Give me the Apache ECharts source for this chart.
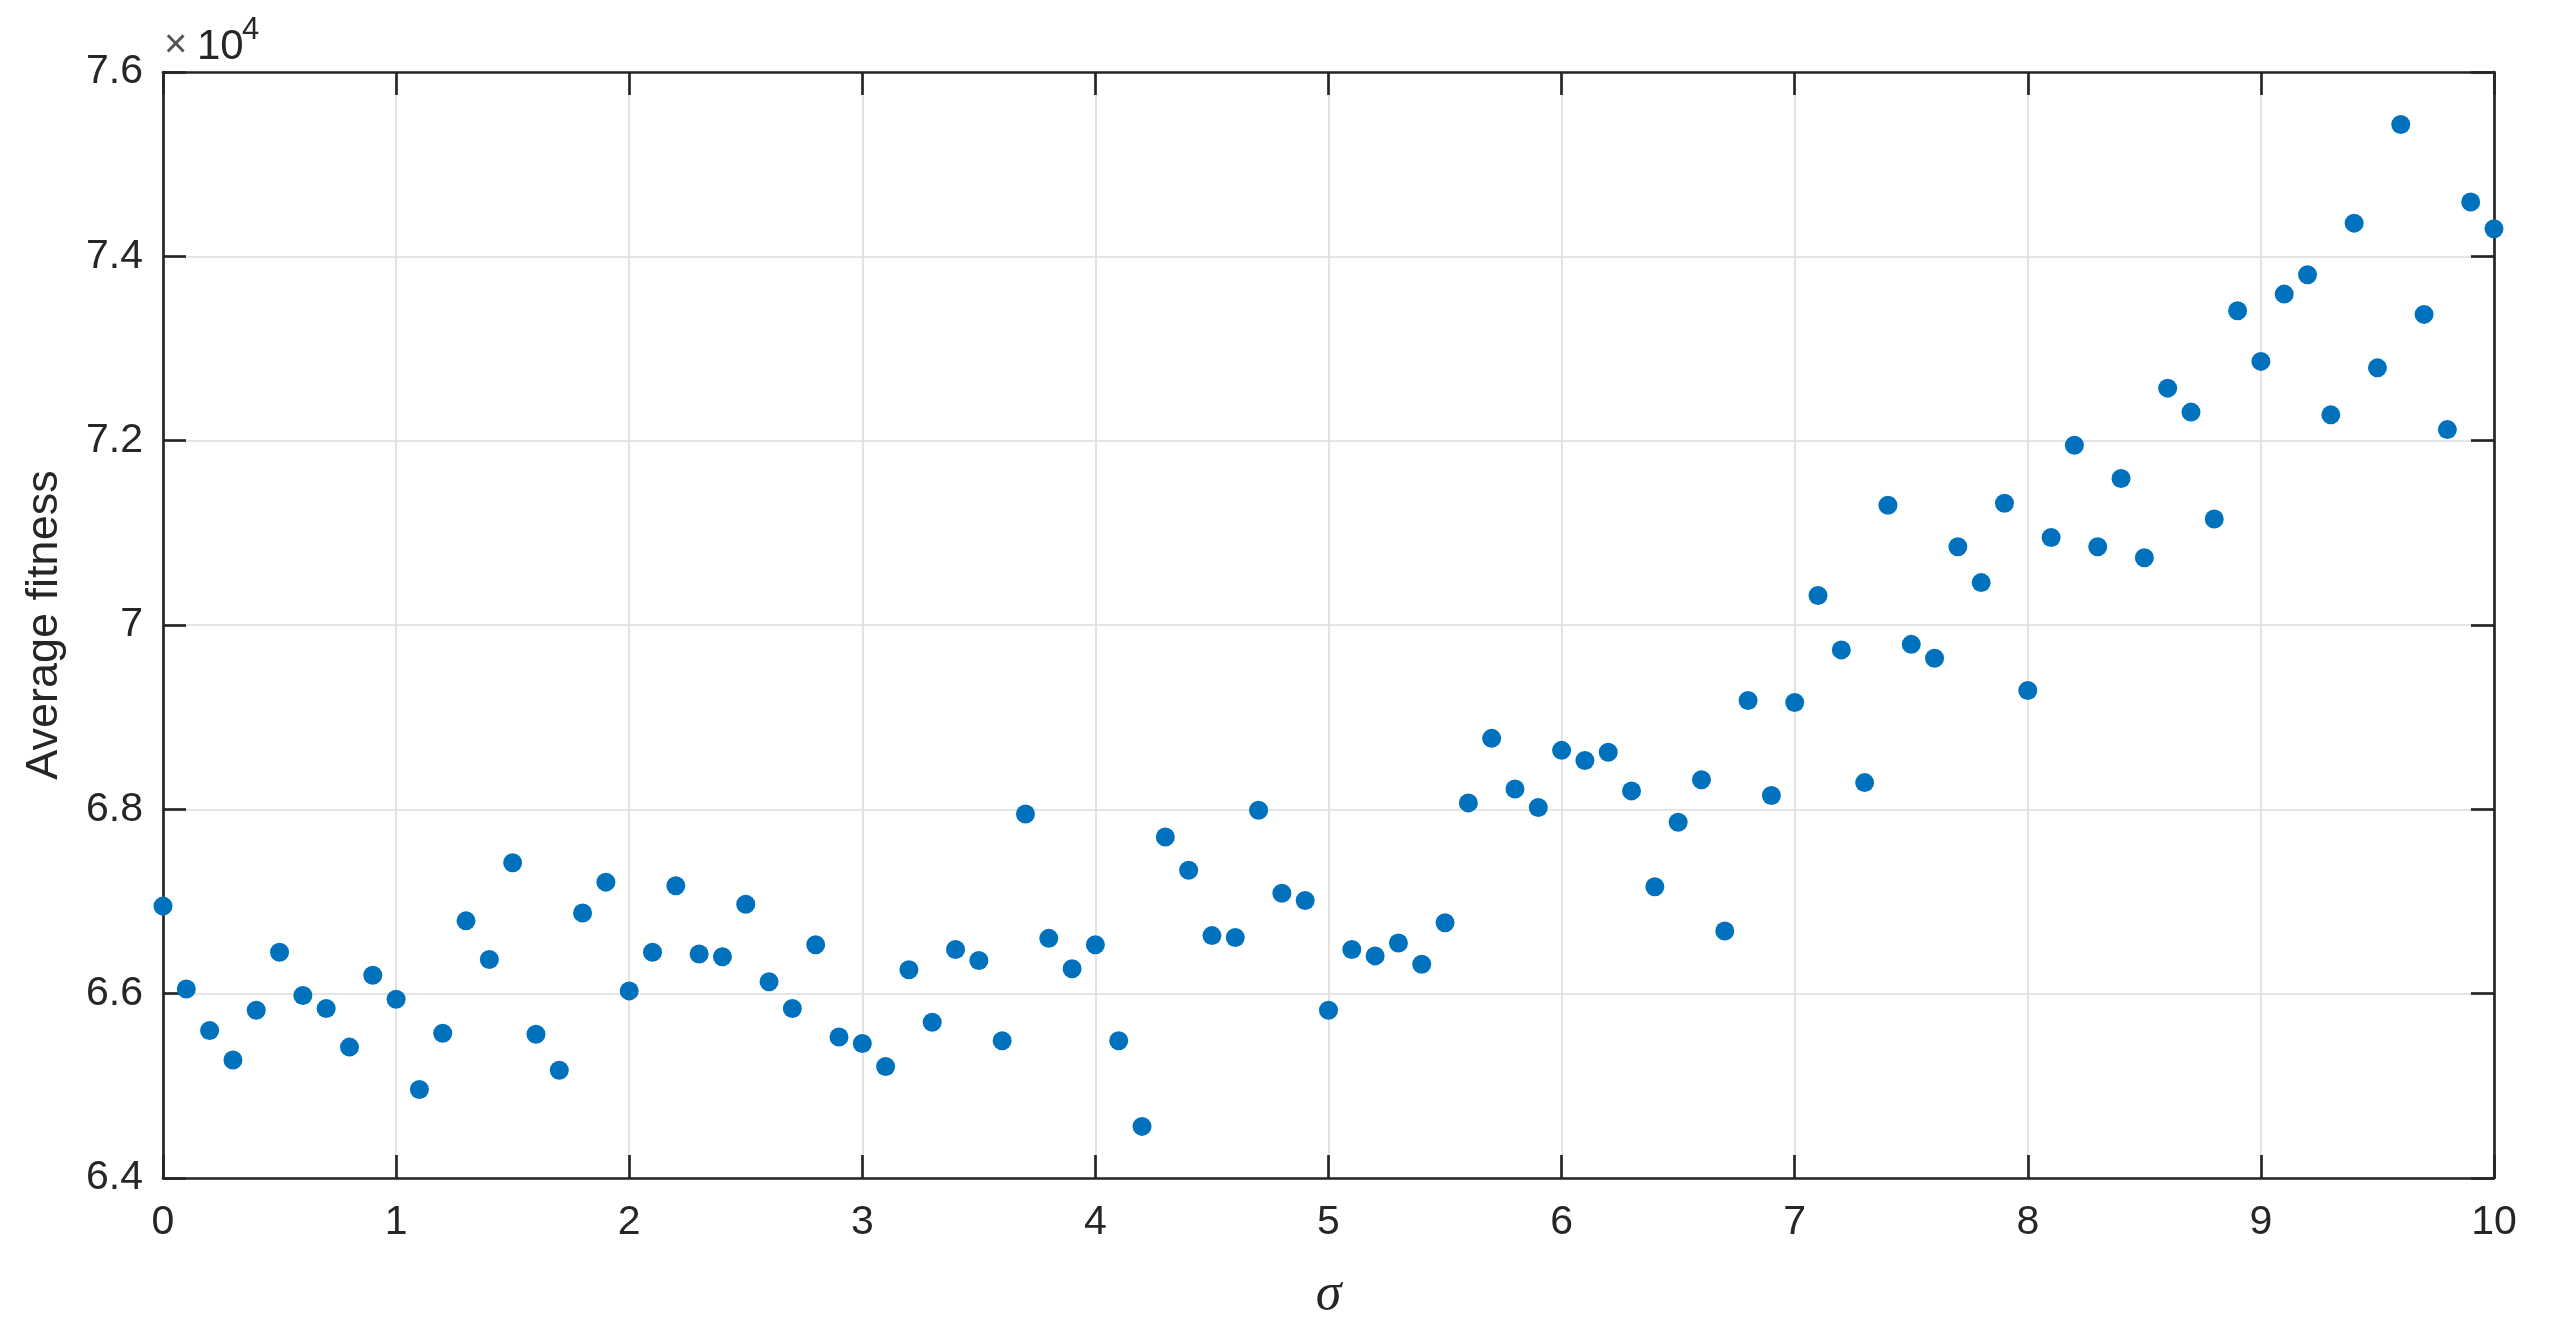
<!DOCTYPE html>
<html>
<head>
<meta charset="utf-8">
<script src="https://cdn.jsdelivr.net/npm/echarts@6/dist/echarts.min.js"></script>
<style>
html,body{margin:0;padding:0;background:#fff;}
#chart{width:2555px;height:1326px;}
</style>
</head>
<body>
<div id="chart"></div>
<script>
// sigma values (x)
var sigma = [0,0.1,0.2,0.3,0.4,0.5,0.6,0.7,0.8,0.9,
  1,1.1,1.2,1.3,1.4,1.5,1.6,1.7,1.8,1.9,
  2,2.1,2.2,2.3,2.4,2.5,2.6,2.7,2.8,2.9,
  3,3.1,3.2,3.3,3.4,3.5,3.6,3.7,3.8,3.9,
  4,4.1,4.2,4.3,4.4,4.5,4.6,4.7,4.8,4.9,
  5,5.1,5.2,5.3,5.4,5.5,5.6,5.7,5.8,5.9,
  6,6.1,6.2,6.3,6.4,6.5,6.6,6.7,6.8,6.9,
  7,7.1,7.2,7.3,7.4,7.5,7.6,7.7,7.8,7.9,
  8,8.1,8.2,8.3,8.4,8.5,8.6,8.7,8.8,8.9,
  9,9.1,9.2,9.3,9.4,9.5,9.6,9.7,9.8,9.9,10];
// average fitness values
var fitness = [66950,66050,65600,65280,65820,66450,65980,65840,65420,66200,
  65940,64960,65570,66790,66370,67420,65560,65170,66875,67210,
  66030,66450,67170,66430,66400,66970,66130,65840,66530,65530,
  65460,65210,66260,65690,66480,66360,65490,67950,66600,66270,
  66530,65490,64560,67700,67340,66630,66610,67990,67090,67010,
  65820,66480,66410,66550,66320,66770,68070,68770,68220,68020,
  68640,68530,68620,68200,67160,67860,68320,66680,69180,68150,
  69160,70320,69730,68290,71300,69790,69640,70850,70460,71320,
  69290,70950,71950,70850,71590,70730,72570,72310,71150,73410,
  72860,73590,73800,72280,74360,72790,75430,73370,72120,74590,74300];
var xTicks = [0,1,2,3,4,5,6,7,8,9,10];
var yTicks = [64000,66000,68000,70000,72000,74000,76000];

var points = sigma.map(function(s,i){return [s, fitness[i]];});
var axisColor = '#262626';
var font = 'Liberation Sans, Arial, sans-serif';

var chart = echarts.init(document.getElementById('chart'), null, {renderer:'canvas'});
chart.setOption({
  backgroundColor:'#ffffff',
  animation:false,
  grid:{left:163, top:72, right:61, bottom:147},
  xAxis:[{
    type:'value', min:xTicks[0], max:xTicks[xTicks.length-1], interval:1,
    name:'σ', nameLocation:'middle', nameGap:91,
    nameTextStyle:{fontFamily:'Liberation Serif, DejaVu Serif, serif', fontStyle:'italic', fontSize:52, color:axisColor},
    axisLine:{show:true, onZero:false, lineStyle:{color:axisColor, width:2.7}},
    axisTick:{show:true, inside:true, length:23, lineStyle:{color:axisColor, width:2.7}},
    axisLabel:{show:true, margin:24, fontFamily:font, fontSize:41, color:axisColor},
    splitLine:{show:true, lineStyle:{color:'#dcdcdc', width:1.6}}
  },{
    type:'value', position:'top', min:xTicks[0], max:xTicks[xTicks.length-1], interval:1,
    axisLine:{show:true, onZero:false, lineStyle:{color:axisColor, width:2.7}},
    axisTick:{show:true, inside:true, length:23, lineStyle:{color:axisColor, width:2.7}},
    axisLabel:{show:false}, splitLine:{show:false}
  }],
  yAxis:[{
    type:'value', min:yTicks[0], max:yTicks[yTicks.length-1], interval:2000,
    name:'Average fitness', nameLocation:'middle', nameGap:96,
    nameTextStyle:{fontFamily:font, fontSize:45, color:axisColor},
    axisLine:{show:true, onZero:false, lineStyle:{color:axisColor, width:2.7}},
    axisTick:{show:true, inside:true, length:23, lineStyle:{color:axisColor, width:2.7}},
    axisLabel:{show:true, margin:20, fontFamily:font, fontSize:41, color:axisColor,
      formatter:function(v){return String(Math.round(v/1000)/10);}},
    splitLine:{show:true, lineStyle:{color:'#dcdcdc', width:1.6}}
  },{
    type:'value', position:'right', min:yTicks[0], max:yTicks[yTicks.length-1], interval:2000,
    axisLine:{show:true, onZero:false, lineStyle:{color:axisColor, width:2.7}},
    axisTick:{show:true, inside:true, length:23, lineStyle:{color:axisColor, width:2.7}},
    axisLabel:{show:false}, splitLine:{show:false}
  }],
  graphic:[
    {type:'text', left:164, top:26, style:{text:'×', fontFamily:font, fontSize:40, fill:'#555555'}},
    {type:'text', left:197, top:26, style:{text:'10', fontFamily:font, fontSize:42, fill:axisColor}},
    {type:'text', left:242, top:15, style:{text:'4', fontFamily:font, fontSize:31, fill:axisColor}}
  ],
  series:[{
    type:'scatter', xAxisIndex:0, yAxisIndex:0,
    data:points, symbol:'circle', symbolSize:19,
    itemStyle:{color:'#0072BD', opacity:1}
  }]
});
</script>
</body>
</html>
